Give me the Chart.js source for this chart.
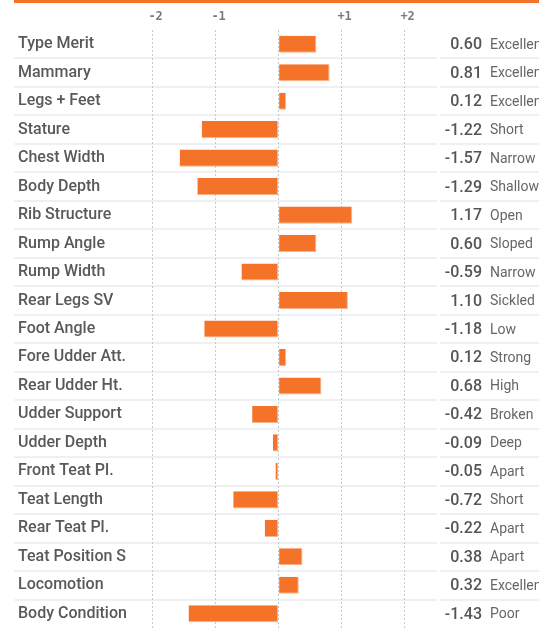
<!DOCTYPE html>
<html>
<head>
<meta charset="utf-8">
<title>Linear Traits</title>
<script src="https://cdn.jsdelivr.net/npm/chart.js@4.4.1/dist/chart.umd.min.js"></script>
<style>
    html, body { margin: 0; padding: 0; background: #fff; }
    canvas { display: block; }
</style>
</head>
<body>
<canvas id="traitChart" width="539" height="628"></canvas>
<script>
const traits = [
    'Type Merit', 'Mammary', 'Legs + Feet', 'Stature', 'Chest Width', 'Body Depth',
    'Rib Structure', 'Rump Angle', 'Rump Width', 'Rear Legs SV', 'Foot Angle',
    'Fore Udder Att.', 'Rear Udder Ht.', 'Udder Support', 'Udder Depth',
    'Front Teat Pl.', 'Teat Length', 'Rear Teat Pl.', 'Teat Position S',
    'Locomotion', 'Body Condition'
];
const scores = [
    0.60, 0.81, 0.12, -1.22, -1.57, -1.29,
    1.17, 0.60, -0.59, 1.10, -1.18,
    0.12, 0.68, -0.42, -0.09,
    -0.05, -0.72, -0.22, 0.38,
    0.32, -1.43
];
const descriptors = [
    'Excellent', 'Excellent', 'Excellent', 'Short', 'Narrow', 'Shallow',
    'Open', 'Sloped', 'Narrow', 'Sickled', 'Low',
    'Strong', 'High', 'Broken', 'Deep',
    'Apart', 'Short', 'Apart', 'Apart',
    'Excellent', 'Poor'
];
const tickValues = [-2, -1, 0, 1, 2];
const tickLabels = ['-2', '-1', '', '+1', '+2'];

const orange = '#f47329';

// orange rule on top + light row separators behind the bars
const rowsPlugin = {
    id: 'rows',
    beforeDraw(chart) {
        const ctx = chart.ctx;
        const y = chart.scales.y;
        ctx.save();
        ctx.fillStyle = orange;
        ctx.fillRect(14, 0, chart.width - 14, 3);
        ctx.fillStyle = '#eff0f2';
        for (let i = 0; i < traits.length - 1; i++) {
            const yy = (y.getPixelForValue(i) + y.getPixelForValue(i + 1)) / 2;
            ctx.fillRect(14, Math.round(yy) - 1, 423, 2);
            ctx.fillRect(440, Math.round(yy) - 1, chart.width - 440, 2);
        }
        ctx.restore();
    },
    afterDraw(chart) {
        const ctx = chart.ctx;
        const y = chart.scales.y;
        ctx.save();
        ctx.textBaseline = 'middle';
        traits.forEach((t, i) => {
            const yy = y.getPixelForValue(i);
            ctx.font = '500 16px Roboto';
            ctx.fillStyle = '#555555';
            ctx.textAlign = 'right';
            ctx.fillText(scores[i].toFixed(2), 482, yy + 1);
            ctx.font = '400 14px Roboto';
            ctx.fillStyle = '#666666';
            ctx.textAlign = 'left';
            ctx.fillText(descriptors[i], 490, yy + 1);
        });
        ctx.restore();
    }
};

new Chart(document.getElementById('traitChart').getContext('2d'), {
    type: 'bar',
    data: {
        labels: traits,
        datasets: [{
            data: scores,
            backgroundColor: orange,
            borderColor: 'rgba(248, 160, 110, 0.8)',
            borderWidth: { top: 0, left: 0, right: 1, bottom: 1 },
            borderSkipped: false,
            barPercentage: 0.6,
            categoryPercentage: 1
        }]
    },
    options: {
        indexAxis: 'y',
        responsive: false,
        animation: false,
        devicePixelRatio: 1,
        layout: { padding: { left: 18, right: 121.8, top: 0, bottom: 0 } },
        plugins: {
            legend: { display: false },
            tooltip: { enabled: false }
        },
        scales: {
            x: {
                position: 'top',
                min: -2.2,
                max: 2.2,
                afterBuildTicks: (scale) => {
                    scale.ticks = tickValues.map(v => ({ value: v }));
                },
                afterFit: (scale) => {
                    scale.height = 30;
                    scale.paddingLeft = 0;
                    scale.paddingRight = 0;
                },
                grid: { color: '#c8c8c8', lineWidth: 1, drawTicks: false },
                border: { display: false, dash: [2, 2] },
                ticks: {
                    padding: 6,
                    color: '#7a7a7a',
                    labelOffset: 3,
                    font: { family: 'DejaVu Sans Mono', size: 12, weight: 'bold' },
                    callback: (v) => tickLabels[tickValues.indexOf(v)]
                }
            },
            y: {
                afterFit: (scale) => {
                    scale.width = 122;
                    scale.paddingTop = 0;
                    scale.paddingBottom = 0;
                },
                grid: { display: false },
                border: { display: false },
                ticks: {
                    crossAlign: 'far',
                    padding: 0,
                    color: '#595959',
                    font: { family: 'Roboto', size: 16, weight: '500' }
                }
            }
        }
    },
    plugins: [rowsPlugin]
});
</script>
</body>
</html>
